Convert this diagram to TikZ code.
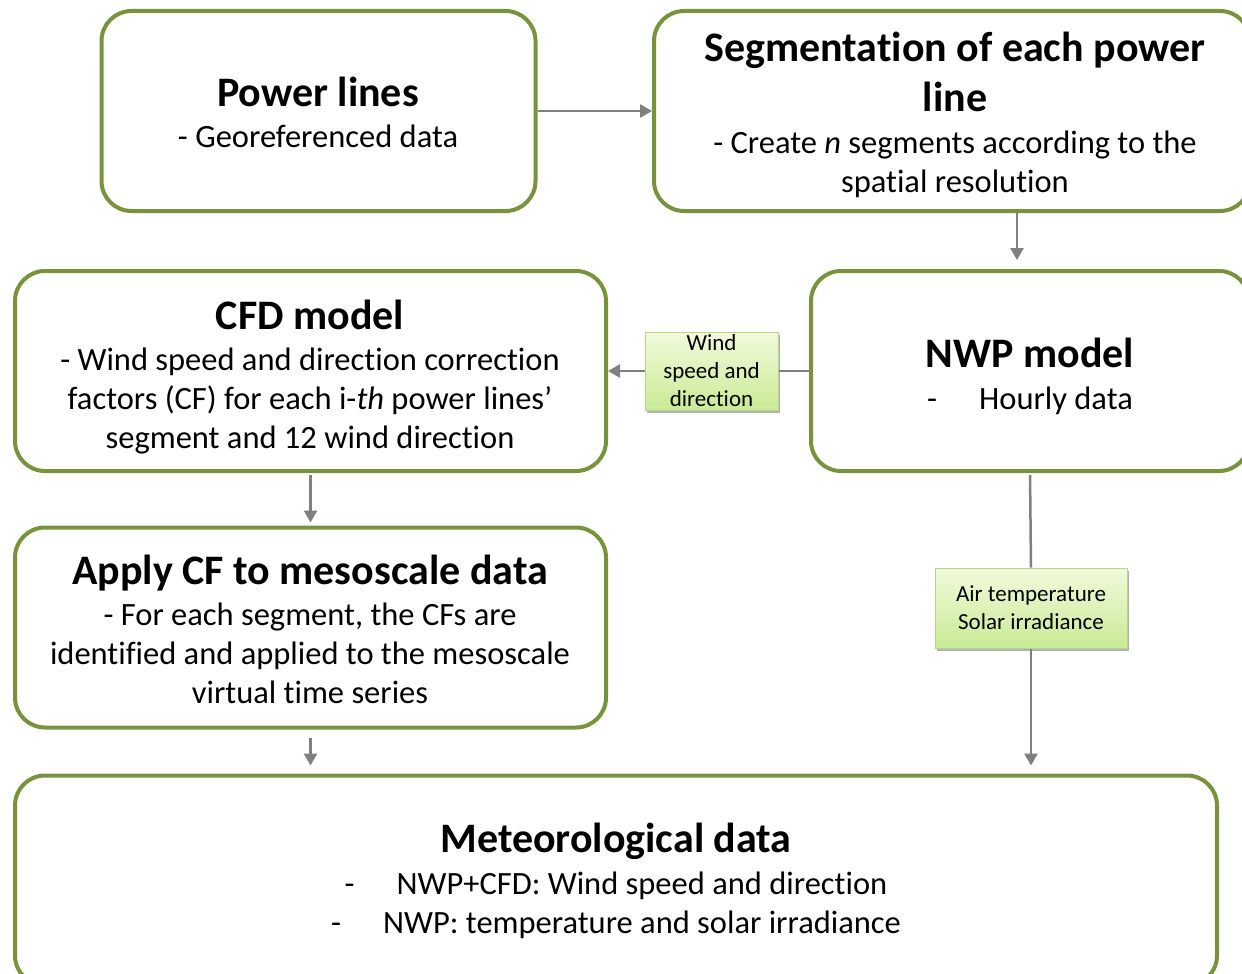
\documentclass[tikz,border=0pt]{standalone}
\usepackage{fontspec}
\setmainfont{Carlito}[Ligatures={NoCommon,NoContextual}]
\usetikzlibrary{arrows.meta,shadows,calc}
\definecolor{boxgreen}{HTML}{77933C}
\definecolor{labborder}{HTML}{B5D78A}
\definecolor{labtop}{HTML}{F2FADC}
\definecolor{labbot}{HTML}{C9EB95}
\definecolor{conngray}{HTML}{808080}
\newcommand\ttlfont{\fontsize{42}{50}\selectfont\bfseries}
\newcommand\bodyfont{\fontsize{32.5}{39}\selectfont}
\newcommand\labfont{\fontsize{23}{28}\selectfont}
\newcommand\dashitem[1]{\makebox[52pt][l]{-}#1}
\tikzset{
  box/.style={draw=boxgreen, line width=4pt, rounded corners=30pt, fill=white, inner sep=0pt},
  txt/.style={font=\bodyfont, align=center, inner sep=0pt},
  lab/.style={draw=labborder, line width=1pt, top color=labtop, bottom color=labbot,
    drop shadow={shadow xshift=2pt, shadow yshift=-3pt, fill=black, opacity=0.3},
    font=\labfont, align=center, inner sep=0pt},
  conn/.style={draw=conngray, line width=2.5pt},
  arr/.style={conn, -{Triangle[length=12pt,width=13pt]}},
}
\begin{document}
\begin{tikzpicture}[x=1pt,y=-1pt]
\useasboundingbox (0,0) rectangle (1242,974);

% boxes
\node[box, minimum width=434pt, minimum height=200pt] (b1) at (318.5,111) {};
\node[box, minimum width=596pt, minimum height=200pt] (b2) at (952,111) {};
\node[box, minimum width=591pt, minimum height=200pt] (cfd) at (310.5,371) {};
\node[box, minimum width=438pt, minimum height=200pt] (nwp) at (1030,371) {};
\node[box, minimum width=591pt, minimum height=200pt] (apply) at (310.5,627.5) {};
\node[box, minimum width=1202pt, minimum height=210pt] (met) at (616,880.5) {};

% texts
\node[txt] (t1) at (318,112) {{\ttlfont Power lines}\\[2pt] - Georeferenced data};
\node[txt] (t2) at (955,114.5) {{\ttlfont Segmentation of each power}\\[11pt]{\ttlfont line}\\[3pt]
  - Create \textit{n} segments according to the\\ spatial resolution};
\node[txt] (t3) at (310,377) {{\ttlfont CFD model}\\[2pt]- Wind speed and direction correction\\
  factors (CF) for each i-\textit{th} power lines’\\ segment and 12 wind direction};
\node[txt] (t4) at (1030,376) {{\ttlfont NWP model}\\[3pt]\dashitem{Hourly data}};
\node[txt] (t5) at (310,629) {{\ttlfont Apply CF to mesoscale data}\\[2pt]- For each segment, the CFs are\\
  identified and applied to the mesoscale\\ virtual time series};
\node[txt] (t6) at (616,880.5) {{\ttlfont Meteorological data}\\[3pt]\dashitem{NWP+CFD: Wind speed and direction}\\
  \dashitem{NWP: temperature and solar irradiance}};

% labels
\node[lab, minimum width=133pt, minimum height=78pt] (wind) at (711.5,371) {Wind\\speed and\\direction};
\node[lab, minimum width=192pt, minimum height=80pt] (air) at (1031,608) {Air temperature\\Solar irradiance};

% connectors
\coordinate (a2) at (1017,260);
\draw[arr] (b1.east) -- (b2.west);
\draw[arr] (a2 |- b2.south) -- (a2);
\draw[conn] (nwp.west) -- (wind.east);
\draw[arr] (wind.west) -- (cfd.east);
\draw[arr, shorten <=2pt, shorten >=3pt] (cfd.south) -- (apply.north);
\draw[arr, shorten <=8pt, shorten >=8pt] (apply.south) -- (apply.south |- met.north);
\draw[conn, shorten <=2pt] (nwp.south) -- (air.north);
\draw[arr, shorten >=8pt] (air.south) -- (air.south |- met.north);
\end{tikzpicture}
\end{document}
